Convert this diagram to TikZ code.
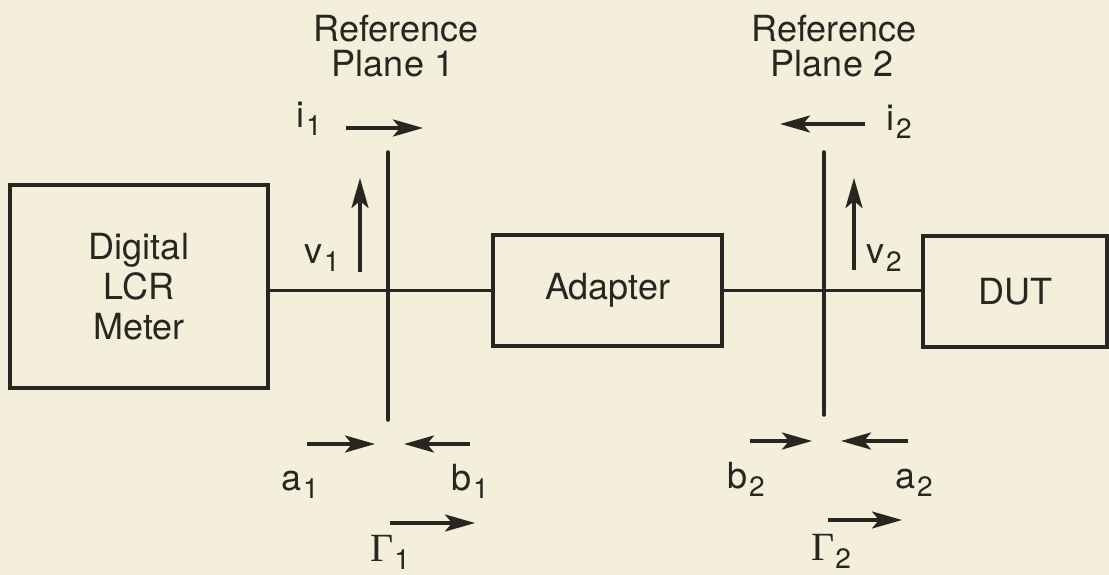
\documentclass[tikz,border=0pt]{standalone}
\usepackage{fontspec}
\setmainfont{TeX Gyre Heros}
\newfontfamily\gfont{Liberation Serif}
\usetikzlibrary{arrows.meta}
\definecolor{bg}{HTML}{F3EFDA}
\definecolor{ink}{HTML}{2A2521}
\newcommand\lbl[2]{#1\kern2pt\raisebox{-8pt}{\fontsize{28}{28}\selectfont #2}}
\newcommand\glbl[1]{{\gfont\fontsize{40}{40}\selectfont Γ}\kern1pt\raisebox{-8pt}{\fontsize{28}{28}\selectfont #1}}
\begin{document}
\begin{tikzpicture}[x=1pt,y=-1pt,
  every node/.style={text=ink, inner sep=0pt, font=\fontsize{36}{40}\selectfont},
  box/.style={draw=ink, line width=4.5pt, align=center},
  wire/.style={draw=ink, line width=3.5pt},
  plane/.style={draw=ink, line width=3.5pt, line cap=round},
  arr/.style={draw=ink, line width=3.5pt, -{Stealth[length=30pt,width=17pt,inset=7pt]}},
  lab/.style={anchor=base west}]
\fill[bg] (0,0) rectangle (1109,575);
\useasboundingbox (0,0) rectangle (1109,575);

% boxes
\node[box, minimum width=258pt, minimum height=203pt] (lcr) at (139,286.5) {Digital\\LCR\\Meter};
\node[box, minimum width=229pt, minimum height=111pt] (adp) at (607.5,290.5) {Adapter};
\node[box, minimum width=184pt, minimum height=111pt] (dut) at (1015,291.5) {DUT};

% wires
\draw[wire] (lcr.east |- adp.west) -- (adp.west);
\draw[wire] (adp.east) -- (dut.west |- adp.east);

% reference planes
\coordinate (p1t) at (388,152);
\coordinate (p1b) at (388,420);
\coordinate (p2t) at (824,152);
\coordinate (p2b) at (824,415);
\draw[plane] (p1t) -- (p1b);
\draw[plane] (p2t) -- (p2b);

\node[anchor=base] (rp1a) at (396,42) {Reference};
\node[anchor=base] (rp1b) at (393,77) {Plane 1};
\node[anchor=base] (rp2a) at (834,42) {Reference};
\node[anchor=base] (rp2b) at (832,77) {Plane 2};

% arrow endpoints
\coordinate (i1s) at (346,128);  \coordinate (i1e) at (423,128);
\coordinate (i2s) at (865,124);  \coordinate (i2e) at (780,124);
\coordinate (v1s) at (360,272);  \coordinate (v1e) at (360,178);
\coordinate (v2s) at (854,270);  \coordinate (v2e) at (854,178);
\coordinate (a1s) at (307,444);  \coordinate (a1e) at (375,444);
\coordinate (b1s) at (470,444);  \coordinate (b1e) at (404,444);
\coordinate (b2s) at (750,441);  \coordinate (b2e) at (812,441);
\coordinate (a2s) at (908,441);  \coordinate (a2e) at (841,441);
\coordinate (g1s) at (390,523);  \coordinate (g1e) at (475,523);
\coordinate (g2s) at (828,520);  \coordinate (g2e) at (902,520);

\draw[arr] (i1s) -- (i1e);
\draw[arr] (i2s) -- (i2e);
\draw[arr] (v1s) -- (v1e);
\draw[arr] (v2s) -- (v2e);
\draw[arr] (a1s) -- (a1e);
\draw[arr] (b1s) -- (b1e);
\draw[arr] (b2s) -- (b2e);
\draw[arr] (a2s) -- (a2e);
\draw[arr] (g1s) -- (g1e);
\draw[arr] (g2s) -- (g2e);

% labels
\node[lab] (li1) at (296,128) {\lbl{i}{1}};
\node[lab] (lv1) at (304,263) {\lbl{v}{1}};
\node[lab] (li2) at (886,131) {\lbl{i}{2}};
\node[lab] (lv2) at (866,263) {\lbl{v}{2}};
\node[lab] (la1) at (281,490) {\lbl{a}{1}};
\node[lab] (lb1) at (451,490) {\lbl{b}{1}};
\node[lab] (lb2) at (727,488) {\lbl{b}{2}};
\node[lab] (la2) at (895,488) {\lbl{a}{2}};
\node[lab] (lg1) at (370,561) {\glbl{1}};
\node[lab] (lg2) at (811,560) {\glbl{2}};
\end{tikzpicture}
\end{document}
